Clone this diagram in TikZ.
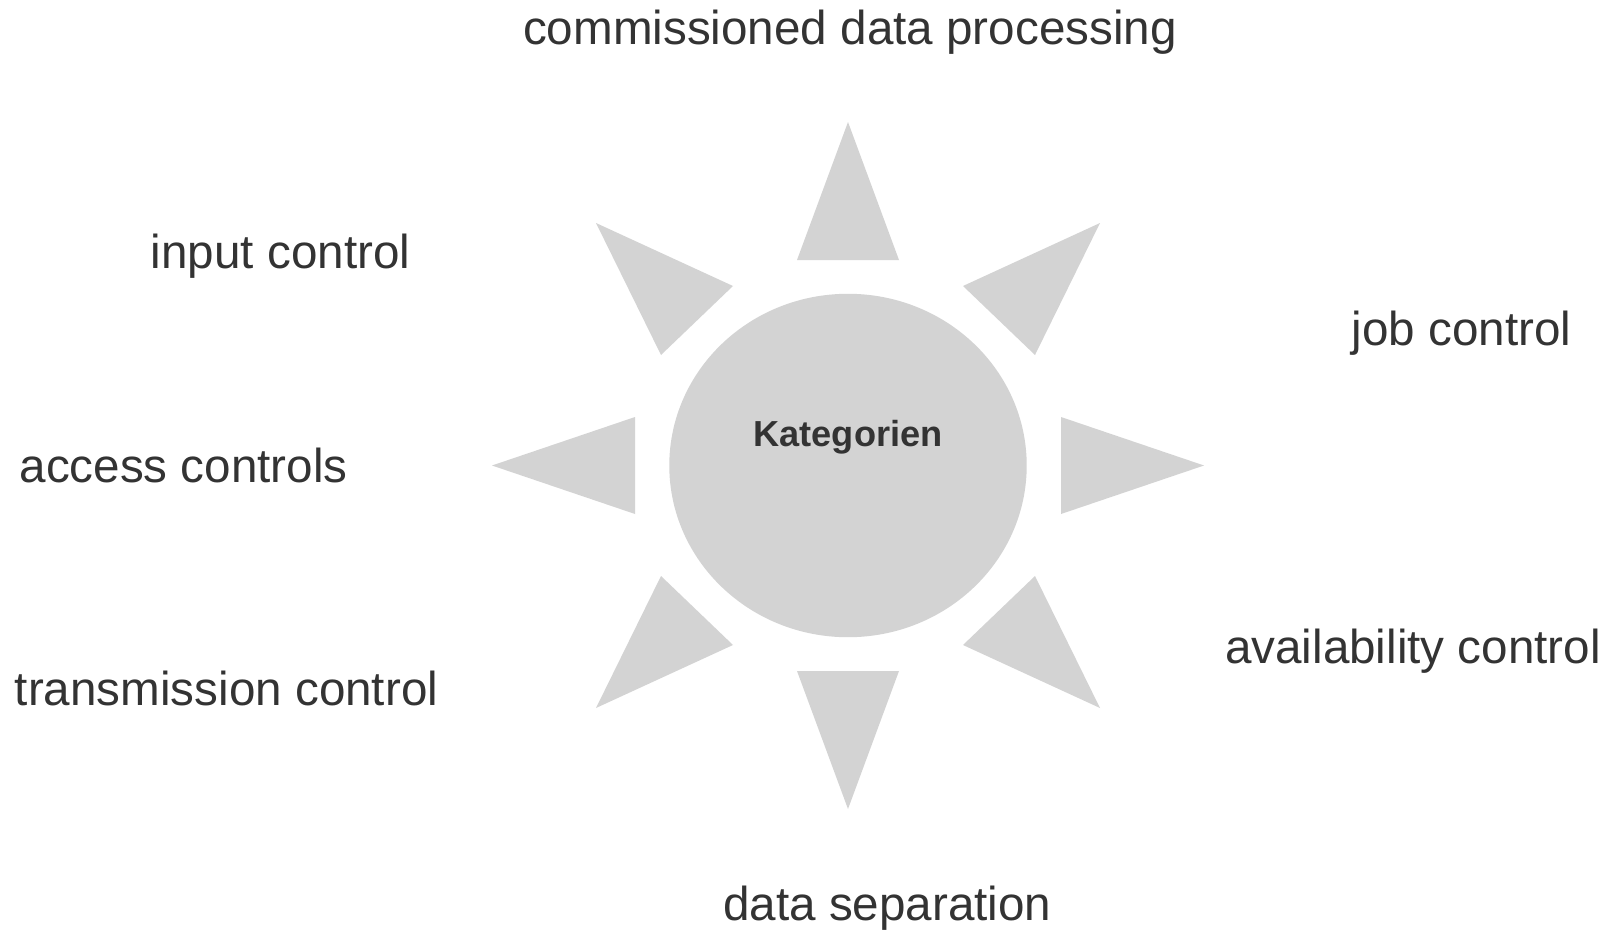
\documentclass[tikz,border=0pt]{standalone}
\usepackage{fontspec}
\setmainfont{Liberation Sans}
\usetikzlibrary{shapes.geometric}
\definecolor{sungray}{HTML}{D3D3D3}
\definecolor{textgray}{HTML}{333333}
\begin{document}
\begin{tikzpicture}
[x=0.02cm,y=-0.02cm,
  raydecorate/.style={fill=sungray,draw=none},%
  sundecorate/.style={shape=ellipse,fill=sungray,inner sep=0pt,
    minimum width=7.15cm,minimum height=6.87cm},
  labeldecorate/.style={anchor=base,inner sep=0pt,text=textgray,
    font=\fontsize{27.1pt}{32pt}\selectfont}]
\useasboundingbox (0,0) rectangle (1614,933);
%% centre
\node (sun) at (848,465.5) [sundecorate] {};
\node (kategorien) at (848,446.7) [labeldecorate,
  font=\fontsize{20.6pt}{25pt}\selectfont\bfseries] {Kategorien};
%% rays
\foreach \ax/\ay/\bx/\by/\cx/\cy in {848/122/797/260/899/260,
  848/809/797/671/899/671, 492/465.5/635/417/635/514,
  1204/465.5/1061/417/1061/514, 596/223/733/286/661/355,
  1100/223/963/286/1035/355, 596/708/733/645/661/576,
  1100/708/963/645/1035/576} {
  \fill [raydecorate] (\ax,\ay) -- (\bx,\by) -- (\cx,\cy) -- cycle;
}
%% labels
\foreach \labelname/\x/\y/\labeltext in {
  commissioned/850/44.3/commissioned data processing,
  input/280.6/268.3/input control, job/1461.6/345.5/job control,
  access/183.7/482.8/access controls,
  transmission/226.5/705/transmission control,
  availability/1413/663.3/availability control,
  separation/887.4/920/data separation} {
  \node (\labelname) at (\x,\y) [labeldecorate] {\labeltext};
}
\end{tikzpicture}
\end{document}
